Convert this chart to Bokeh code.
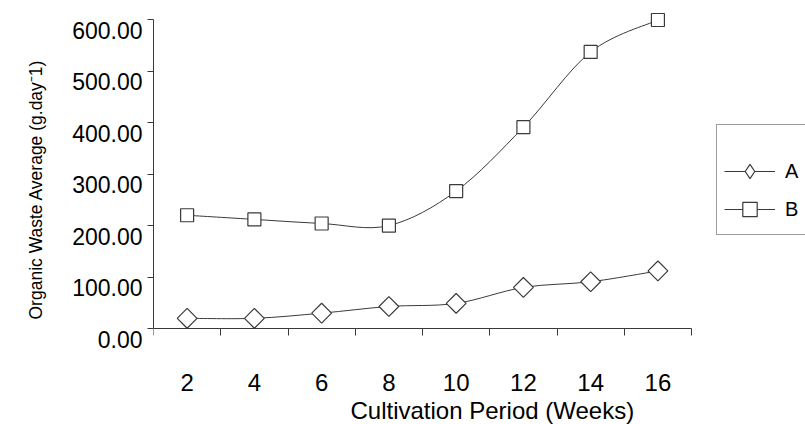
import numpy as np
from bokeh.plotting import figure
from bokeh.models import (FixedTicker, Legend, LegendItem, LinearAxis,
                          ColumnDataSource, Range1d, Title)
from bokeh.embed import file_html
from bokeh.resources import INLINE

# ---- data ----
weeks = [2, 4, 6, 8, 10, 12, 14, 16]
series_a = [20, 20, 30, 43, 49, 80, 91, 112]
series_b = [220, 212, 204, 200, 267, 391, 537, 599]
y_ticks = [0, 100, 200, 300, 400, 500, 600]
x_labels = ["2", "4", "6", "8", "10", "12", "14", "16"]
y_title = "Organic Waste Average (g.day\u207b1)"
x_title = "Cultivation Period (Weeks)"
names = ["A", "B"]

FONT = "Liberation Sans"
INK = "#3a3a3a"
LABEL_SHIFT = 21  # y tick labels sit a little below their tick marks

# category boundaries (ticks sit between the categories)
step = weeks[1] - weeks[0]
bounds_ticks = [w - step / 2 for w in weeks] + [weeks[-1] + step / 2]

# layout (canvas pixels)
W, H = 805, 424
LEFT, TOP = 147, 11
PX_PER_UNIT = 310 / 600            # y scale
PX_PER_WEEK = 543 / (bounds_ticks[-1] - bounds_ticks[0])
Y_TOP = y_ticks[-1] + 8 / PX_PER_UNIT
Y_BOT = -25
FRAME_H = round((Y_TOP - Y_BOT) * PX_PER_UNIT)


def smooth(xs, ys, t=1 / 6):
    """Cubic Bezier control points (Catmull-Rom style) for a smoothed line."""
    xs = np.asarray(xs, float)
    ys = np.asarray(ys, float)
    n = len(xs)
    px = np.concatenate([[xs[0]], xs, [xs[-1]]])
    py = np.concatenate([[ys[0]], ys, [ys[-1]]])
    return dict(
        x0=xs[:-1], y0=ys[:-1], x1=xs[1:], y1=ys[1:],
        cx0=xs[:-1] + (px[2:n + 1] - px[0:n - 1]) * t,
        cy0=ys[:-1] + (py[2:n + 1] - py[0:n - 1]) * t,
        cx1=xs[1:] - (px[3:n + 2] - px[1:n]) * t,
        cy1=ys[1:] - (py[3:n + 2] - py[1:n]) * t,
    )


p = figure(width=W, height=H,
           x_range=Range1d(bounds_ticks[0],
                           bounds_ticks[0] + (W - LEFT) / PX_PER_WEEK),
           y_range=Range1d(Y_BOT, Y_TOP),
           output_backend="svg", toolbar_location=None,
           min_border_left=LEFT, min_border_right=0,
           min_border_top=TOP, min_border_bottom=H - TOP - FRAME_H)
p.outline_line_color = None
p.xgrid.visible = False
p.ygrid.visible = False
p.background_fill_color = "white"
p.border_fill_color = "white"

# x axis line + boundary ticks, fixed at y = 0
xa = p.xaxis[0]
xa.fixed_location = 0
xa.ticker = FixedTicker(ticks=bounds_ticks)
xa.major_label_overrides = {b: "" for b in bounds_ticks}
xa.major_label_text_font_size = "1px"
xa.major_label_standoff = 0
xa.major_tick_out = 7
xa.major_tick_in = 0
xa.minor_tick_line_color = None
xa.major_tick_line_color = INK
xa.axis_line_color = INK
xa.bounds = (bounds_ticks[0], bounds_ticks[-1])

# x tick labels at category centres
xlab = LinearAxis(ticker=FixedTicker(ticks=weeks),
                  major_label_overrides={w: lab for w, lab in zip(weeks, x_labels)},
                  axis_line_color=None, major_tick_line_color=None,
                  minor_tick_line_color=None, major_tick_out=0, major_tick_in=0,
                  major_label_standoff=32, major_label_text_font=FONT,
                  major_label_text_font_size="24px",
                  major_label_text_line_height=0.9,
                  major_label_text_color="black")
p.add_layout(xlab, "below")

# y axis: tick marks only
ya = p.yaxis[0]
ya.ticker = FixedTicker(ticks=y_ticks)
ya.major_label_overrides = {v: "" for v in y_ticks}
ya.major_label_standoff = 0
ya.major_label_text_font_size = "1px"
ya.bounds = (y_ticks[0], y_ticks[-1])
ya.major_tick_out = 6
ya.major_tick_in = 0
ya.minor_tick_line_color = None
ya.major_tick_line_color = INK
ya.axis_line_color = INK

# y tick labels, set slightly below their ticks
lab_axis = LinearAxis(
    ticker=FixedTicker(ticks=[v - LABEL_SHIFT for v in y_ticks]),
    major_label_overrides={v - LABEL_SHIFT: "%.2f" % v for v in y_ticks},
    axis_line_color=None, major_tick_line_color=None,
    minor_tick_line_color=None, major_tick_out=0, major_tick_in=0,
    major_label_standoff=5, major_label_text_font=FONT,
    major_label_text_font_size="23px", major_label_text_color="black")
p.add_layout(lab_axis, "left")

# series
src_a = ColumnDataSource(dict(x=weeks, y=series_a))
src_b = ColumnDataSource(dict(x=weeks, y=series_b))
curve_a = p.bezier(source=ColumnDataSource(smooth(weeks, series_a)),
                   x0="x0", y0="y0", x1="x1", y1="y1",
                   cx0="cx0", cy0="cy0", cx1="cx1", cy1="cy1",
                   line_color=INK, line_width=1)
curve_b = p.bezier(source=ColumnDataSource(smooth(weeks, series_b)),
                   x0="x0", y0="y0", x1="x1", y1="y1",
                   cx0="cx0", cy0="cy0", cx1="cx1", cy1="cy1",
                   line_color=INK, line_width=1)
mk_a = p.scatter("x", "y", source=src_a, marker="square", angle=np.pi / 4,
                 size=14, fill_color="white", line_color=INK, line_width=1.2)
mk_b = p.scatter("x", "y", source=src_b, marker="square",
                 size=13, fill_color="white", line_color=INK, line_width=1.2)

# legend key for A (not drawn in the plot: its point is NaN)
key_a = p.scatter(x=[np.nan], y=[np.nan], marker="diamond", fill_color="white",
                  line_color=INK, line_width=1.2)

legend = Legend(items=[LegendItem(label=names[0], renderers=[curve_a, key_a]),
                       LegendItem(label=names[1], renderers=[curve_b, mk_b])],
                location=(563, 106), padding=7, spacing=2, margin=0,
                glyph_width=51, glyph_height=36, label_height=36,
                label_standoff=10, label_text_font=FONT,
                label_text_font_size="20px", label_text_color="black",
                border_line_color=INK, border_line_width=1,
                background_fill_color="white", background_fill_alpha=1,
                title=" ", title_text_font_size="14px", title_standoff=5)
p.add_layout(legend, "center")

p.add_layout(Title(text=y_title, align="left", offset=22, standoff=47,
                   text_font=FONT, text_font_size="17.5px",
                   text_font_style="normal", text_color="black"), "left")
p.add_layout(Title(text=x_title, align="left", offset=197, standoff=2,
                   text_font=FONT, text_font_size="24px",
                   text_line_height=0.9,
                   text_font_style="normal", text_color="black"), "below")

open("out.html", "w").write(file_html(p, INLINE))
